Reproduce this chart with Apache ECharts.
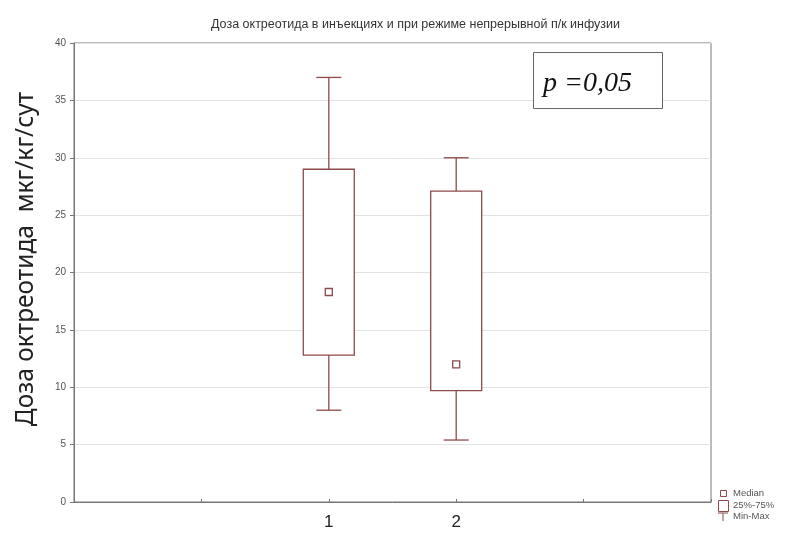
<!DOCTYPE html>
<html>
<head>
<meta charset="utf-8">
<style>
  html, body { margin: 0; padding: 0; background: #fff; }
  #chart { width: 792px; height: 536px; }
</style>
<script src="https://cdn.jsdelivr.net/npm/echarts@6/dist/echarts.min.js"></script>
</head>
<body>
<div id="chart"></div>
<script>
// box plot values
const groups = ['1', '2']
const mins = [8, 5.4]
const q1s = [12.8, 9.7]
const medians = [18.3, 12]
const q3s = [29, 27.1]
const maxs = [37, 30]
const yTicks = [0, 5, 10, 15, 20, 25, 30, 35, 40]

const boxColor = '#8e4b4b'
const chart = echarts.init(document.getElementById('chart'))

// group i sits at x = i + 2 on a 0..5 axis
const boxData = groups.map((g, i) => [i + 2, mins[i], q1s[i], medians[i], q3s[i], maxs[i]])

const option = {
  backgroundColor: '#fff',
  animation: false,
  textStyle: { fontFamily: 'Liberation Sans, Arial, sans-serif' },
  title: {
    text: 'Доза октреотида в инъекциях и при режиме непрерывной п/к инфузии',
    left: 206,
    top: 13,
    textStyle: { fontSize: 12.5, fontWeight: 'normal', color: '#333' },
  },
  grid: {
    left: 74,
    right: 81,
    top: 43,
    bottom: 34,
    show: true,
    borderColor: '#777',
    borderWidth: 1,
  },
  xAxis: {
    type: 'value',
    min: 0,
    max: 5,
    interval: 1,
    splitLine: { show: false },
    axisLine: { lineStyle: { color: '#777' } },
    axisTick: { show: true, length: 3, inside: true, lineStyle: { color: '#777' } },
    axisLabel: {
      fontSize: 17,
      color: '#222',
      margin: 12,
      formatter: (v) => (v >= 2 && v - 2 < groups.length ? groups[v - 2] : ''),
    },
  },
  yAxis: {
    type: 'value',
    min: 0,
    max: 40,
    interval: 5,
    axisLine: { show: true, lineStyle: { color: '#777' } },
    axisTick: { show: true, length: 4, lineStyle: { color: '#777' } },
    axisLabel: {
      fontSize: 10,
      color: '#555',
      margin: 8,
      formatter: (v) => (yTicks.includes(v) ? String(v) : ''),
    },
    splitLine: { lineStyle: { color: '#e2e2e2' } },
  },
  series: [
    {
      type: 'custom',
      data: boxData,
      encode: { x: 0, y: [1, 2, 3, 4, 5] },
      renderItem: function (params, api) {
        const x = api.value(0)
        const pMin = api.coord([x, api.value(1)])
        const pQ1 = api.coord([x, api.value(2)])
        const pMed = api.coord([x, api.value(3)])
        const pQ3 = api.coord([x, api.value(4)])
        const pMax = api.coord([x, api.value(5)])
        const cx = pMin[0]
        const boxW = 51
        const capW = 25
        const m = 7
        const st = { stroke: boxColor, lineWidth: 1.3, fill: null }
        return {
          type: 'group',
          children: [
            { type: 'line', shape: { x1: cx, y1: pMax[1], x2: cx, y2: pQ3[1] }, style: st },
            { type: 'line', shape: { x1: cx, y1: pQ1[1], x2: cx, y2: pMin[1] }, style: st },
            { type: 'line', shape: { x1: cx - capW / 2, y1: pMax[1], x2: cx + capW / 2, y2: pMax[1] }, style: st },
            { type: 'line', shape: { x1: cx - capW / 2, y1: pMin[1], x2: cx + capW / 2, y2: pMin[1] }, style: st },
            {
              type: 'rect',
              shape: { x: cx - boxW / 2, y: pQ3[1], width: boxW, height: pQ1[1] - pQ3[1] },
              style: { stroke: boxColor, lineWidth: 1.3, fill: '#fff' },
            },
            {
              type: 'rect',
              shape: { x: cx - m / 2, y: pMed[1] - m / 2, width: m, height: m },
              style: { stroke: boxColor, lineWidth: 1.3, fill: '#fff' },
            },
          ],
        }
      },
    },
  ],
  graphic: [
    // y axis title
    {
      type: 'text',
      x: 26,
      y: 259,
      rotation: Math.PI / 2,
      style: {
        text: 'Доза октреотида  мкг/кг/сут',
        fontSize: 24.5,
        fontFamily: 'Noto Sans, DejaVu Sans, sans-serif',
        fill: '#222',
        align: 'center',
        verticalAlign: 'middle',
      },
    },
    {
      type: 'rect',
      left: 533,
      top: 52,
      shape: { width: 129, height: 56 },
      style: { fill: '#fff', stroke: '#666', lineWidth: 1 },
      z: 10,
    },
    {
      type: 'text',
      left: 543,
      top: 70,
      style: {
        text: 'p =0,05',
        fontSize: 28,
        fontStyle: 'italic',
        fontFamily: 'Liberation Serif, Times New Roman, serif',
        fill: '#111',
      },
      z: 11,
    },
    // legend
    {
      type: 'rect',
      left: 720,
      top: 490,
      shape: { width: 6, height: 6 },
      style: { fill: '#fff', stroke: boxColor, lineWidth: 1 },
    },
    {
      type: 'rect',
      left: 718,
      top: 500,
      shape: { width: 10, height: 11 },
      style: { fill: '#fff', stroke: boxColor, lineWidth: 1 },
    },
    {
      type: 'group',
      children: [
        { type: 'line', shape: { x1: 718, y1: 513, x2: 728, y2: 513 }, style: { stroke: boxColor, lineWidth: 1 } },
        { type: 'line', shape: { x1: 723, y1: 513, x2: 723, y2: 521 }, style: { stroke: boxColor, lineWidth: 1 } },
      ],
    },
    {
      type: 'text',
      left: 733,
      top: 488,
      style: { text: 'Median', fontSize: 9.5, fill: '#555' },
    },
    {
      type: 'text',
      left: 733,
      top: 500,
      style: { text: '25%-75%', fontSize: 9.5, fill: '#555' },
    },
    {
      type: 'text',
      left: 733,
      top: 511,
      style: { text: 'Min-Max', fontSize: 9.5, fill: '#555' },
    },
  ],
}

option && chart.setOption(option)
</script>
</body>
</html>
